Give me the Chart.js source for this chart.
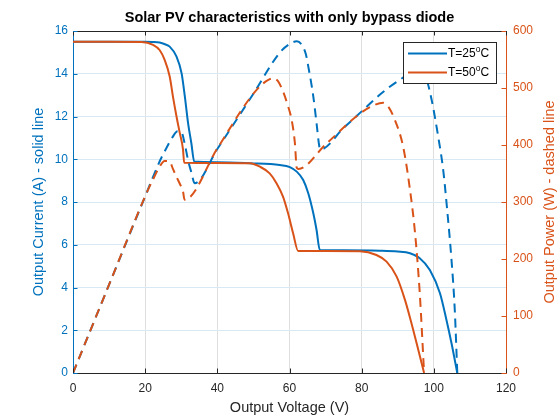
<!DOCTYPE html>
<html>
<head>
<meta charset="utf-8">
<title>Solar PV characteristics</title>
<script src="https://cdn.jsdelivr.net/npm/chart.js@4.4.1/dist/chart.umd.min.js"></script>
<style>
  html, body { margin: 0; padding: 0; background: #fff; }
  #wrap { width: 560px; height: 420px; }
</style>
</head>
<body>
<div id="wrap"><canvas id="pv" width="560" height="420"></canvas></div>
<script>
// Current curves (solid)
const voltsI25 = [0, 10, 20, 22, 24, 25.5, 26.8, 28.7, 30.1, 31.0, 31.9, 32.8, 33.6, 40, 49, 57.3, 60.1, 62.0, 63.8, 65.2, 66.6, 67.5, 68.4, 75, 85, 90, 93.4, 96.1, 98.9, 101.7, 103.5, 104.9, 106.5];
const amps25   = [15.5, 15.5, 15.5, 15.49, 15.46, 15.38, 15.27, 14.8, 14.02, 12.93, 11.68, 10.75, 9.89, 9.86, 9.81, 9.73, 9.63, 9.42, 9.03, 8.41, 7.47, 6.69, 5.76, 5.74, 5.72, 5.68, 5.6, 5.37, 4.82, 3.73, 2.48, 1.39, 0];

const voltsI50 = [0, 10, 19, 22.2, 24, 25.4, 26.8, 27.7, 28.7, 29.6, 30.5, 30.8, 40, 49, 51.8, 54.5, 56.4, 58.2, 59.6, 61.0, 62.4, 70, 79.5, 84.1, 86.9, 89.7, 92.0, 93.8, 95.7, 97.3];
const amps50   = [15.5, 15.5, 15.49, 15.35, 15.11, 14.65, 13.87, 12.93, 11.99, 11.22, 10.44, 9.84, 9.83, 9.81, 9.65, 9.34, 8.88, 8.25, 7.47, 6.54, 5.71, 5.71, 5.7, 5.52, 5.21, 4.51, 3.42, 2.33, 1.08, 0];

// Power curves (dashed)
const voltsP25 = [0, 10, 20, 24, 26, 27.5, 29, 30.1, 31.0, 31.9, 32.8, 33.7, 40, 50, 57.3, 60, 62, 63.5, 64.5, 65.2, 66.6, 67.5, 68.2, 68.5, 75, 80, 85, 90, 94, 96, 98, 99.4, 101.2, 102.6, 103.7, 104.9, 105.8, 106.5];
const watts25  = [0, 155, 310, 371, 396, 413, 424, 422, 401, 373, 352, 333, 393, 490, 562, 577, 582, 575, 560, 538, 485, 438, 400, 392, 430, 459, 488, 512, 525, 524, 514, 479, 415, 356, 286, 198, 111, 0];

const voltsP50 = [0, 10, 20, 22.2, 24, 25.4, 26.8, 27.7, 28.7, 29.6, 30.5, 30.9, 40, 49, 52.7, 55.5, 56.8, 58.2, 59.5, 60.6, 61.5, 62.0, 62.5, 70, 79.5, 83.5, 86, 87.5, 89.2, 91.5, 93.4, 94.8, 96.1, 97.3];
const watts50  = [0, 155, 310, 340, 362, 372, 371, 358, 344, 332, 318, 304, 394, 482, 508, 517, 512, 494, 470, 444, 403, 360, 358, 401, 455, 470, 474, 466, 444, 397, 321, 245, 140, 0];

// Axes
const xTicks = [0, 20, 40, 60, 80, 100, 120];
const ampTicks = [0, 2, 4, 6, 8, 10, 12, 14, 16];
const wattTicks = [0, 100, 200, 300, 400, 500, 600];
const seriesNames = ['T=25', 'T=50'];

const BLUE = '#0072BD';
const ORANGE = '#D95319';
const INK = '#262626';
const FONT = "'Liberation Sans', Arial, Helvetica, sans-serif";

Chart.defaults.font.family = FONT;

function pts(xs, ys) {
  return xs.map((x, i) => ({ x: x, y: ys[i] }));
}

// Title, right axis label, inward ticks, box and legend
const matlabLook = {
  id: 'matlabLook',
  afterDraw(chart) {
    const ctx = chart.ctx;
    const a = chart.chartArea;
    const sx = chart.scales.x, sy = chart.scales.y, sy2 = chart.scales.y2;
    const tick = 4.5;
    ctx.save();
    ctx.lineWidth = 1;

    // top border
    ctx.strokeStyle = INK;
    ctx.beginPath();
    ctx.moveTo(a.left, a.top + 0.5);
    ctx.lineTo(a.right, a.top + 0.5);
    ctx.stroke();

    // x ticks, bottom and top
    ctx.beginPath();
    xTicks.forEach(v => {
      const px = Math.round(sx.getPixelForValue(v)) + 0.5;
      ctx.moveTo(px, a.bottom);
      ctx.lineTo(px, a.bottom - tick);
      ctx.moveTo(px, a.top);
      ctx.lineTo(px, a.top + tick);
    });
    ctx.stroke();

    ctx.strokeStyle = BLUE;
    ctx.beginPath();
    ampTicks.forEach(v => {
      const py = Math.round(sy.getPixelForValue(v)) + 0.5;
      ctx.moveTo(a.left, py);
      ctx.lineTo(a.left + tick, py);
    });
    ctx.stroke();

    ctx.strokeStyle = ORANGE;
    ctx.beginPath();
    wattTicks.forEach(v => {
      const py = Math.round(sy2.getPixelForValue(v)) + 0.5;
      ctx.moveTo(a.right, py);
      ctx.lineTo(a.right - tick, py);
    });
    ctx.stroke();

    // chart title
    ctx.fillStyle = '#000';
    ctx.font = 'bold 14.5px ' + FONT;
    ctx.textAlign = 'center';
    ctx.textBaseline = 'middle';
    ctx.fillText('Solar PV characteristics with only bypass diode', (a.left + a.right) / 2, 18);

    // right axis label, reading upwards like the left one
    ctx.save();
    ctx.translate(550, (a.top + a.bottom) / 2);
    ctx.rotate(-Math.PI / 2);
    ctx.fillStyle = ORANGE;
    ctx.font = '14.5px ' + FONT;
    ctx.fillText('Output Power (W) - dashed line', 0, 0);
    ctx.restore();

    // legend
    const bx = a.right - 102.5, by = a.top + 11.5, bw = 93, bh = 41;
    ctx.fillStyle = '#fff';
    ctx.fillRect(bx, by, bw, bh);
    ctx.strokeStyle = INK;
    ctx.strokeRect(bx, by, bw, bh);
    [0, 1].forEach(i => {
      const ds = chart.data.datasets[i];
      const ly = by + 11 + i * 19;
      ctx.strokeStyle = ds.borderColor;
      ctx.lineWidth = 2;
      ctx.beginPath();
      ctx.moveTo(bx + 4.5, ly);
      ctx.lineTo(bx + 43.5, ly);
      ctx.stroke();
      ctx.fillStyle = '#000';
      ctx.textAlign = 'left';
      ctx.textBaseline = 'middle';
      ctx.font = '12px ' + FONT;
      let tx = bx + 44.5;
      const base = seriesNames[i];
      ctx.fillText(base, tx, ly);
      tx += ctx.measureText(base).width;
      ctx.font = '8.5px ' + FONT;
      ctx.fillText('o', tx, ly - 4);
      tx += ctx.measureText('o').width;
      ctx.font = '12px ' + FONT;
      ctx.fillText('C', tx, ly);
    });
    ctx.restore();
  }
};

const lineStyle = { borderWidth: 2, pointRadius: 0, fill: false, cubicInterpolationMode: 'monotone' };

new Chart(document.getElementById('pv'), {
  type: 'line',
  data: {
    datasets: [
      Object.assign({ label: 'T=25°C', data: pts(voltsI25, amps25), yAxisID: 'y', borderColor: BLUE, order: 3 }, lineStyle),
      Object.assign({ label: 'T=50°C', data: pts(voltsI50, amps50), yAxisID: 'y', borderColor: ORANGE, order: 2 }, lineStyle),
      Object.assign({ label: 'P 25°C', data: pts(voltsP25, watts25), yAxisID: 'y2', borderColor: BLUE, borderDash: [9, 6], order: 1 }, lineStyle),
      Object.assign({ label: 'P 50°C', data: pts(voltsP50, watts50), yAxisID: 'y2', borderColor: ORANGE, borderDash: [9, 6], order: 0 }, lineStyle)
    ]
  },
  options: {
    responsive: false,
    animation: false,
    layout: { padding: { top: 31, left: 0, right: 0, bottom: 0 } },
    plugins: {
      legend: { display: false },
      tooltip: { enabled: false },
      title: { display: false }
    },
    scales: {
      x: {
        type: 'linear',
        min: 0,
        max: 120,
        afterBuildTicks: s => { s.ticks = xTicks.map(v => ({ value: v })); },
        afterFit: s => { s.height = 47; },
        grid: { color: '#dfdfdf', drawTicks: false },
        border: { color: INK },
        ticks: { color: INK, font: { size: 12 }, padding: 8, maxRotation: 0 },
        title: { display: true, text: 'Output Voltage (V)', color: INK, font: { size: 14.5 }, padding: { top: 0, bottom: 3.5 } }
      },
      y: {
        position: 'left',
        min: 0,
        max: 16,
        afterBuildTicks: s => { s.ticks = ampTicks.map(v => ({ value: v })); },
        afterFit: s => { s.width = 73; },
        grid: { color: '#d9e9f4', drawTicks: false },
        border: { color: BLUE },
        ticks: { color: BLUE, font: { size: 12 }, padding: 5 },
        title: { display: true, text: 'Output Current (A) - solid line', color: BLUE, font: { size: 14.5 }, padding: { top: 30.5, bottom: 0 } }
      },
      y2: {
        position: 'right',
        min: 0,
        max: 600,
        afterBuildTicks: s => { s.ticks = wattTicks.map(v => ({ value: v })); },
        afterFit: s => { s.width = 54; },
        grid: { drawOnChartArea: false, drawTicks: false },
        border: { color: ORANGE },
        ticks: { color: ORANGE, font: { size: 12 }, padding: 7 }
      }
    }
  },
  plugins: [matlabLook]
});
</script>
</body>
</html>
